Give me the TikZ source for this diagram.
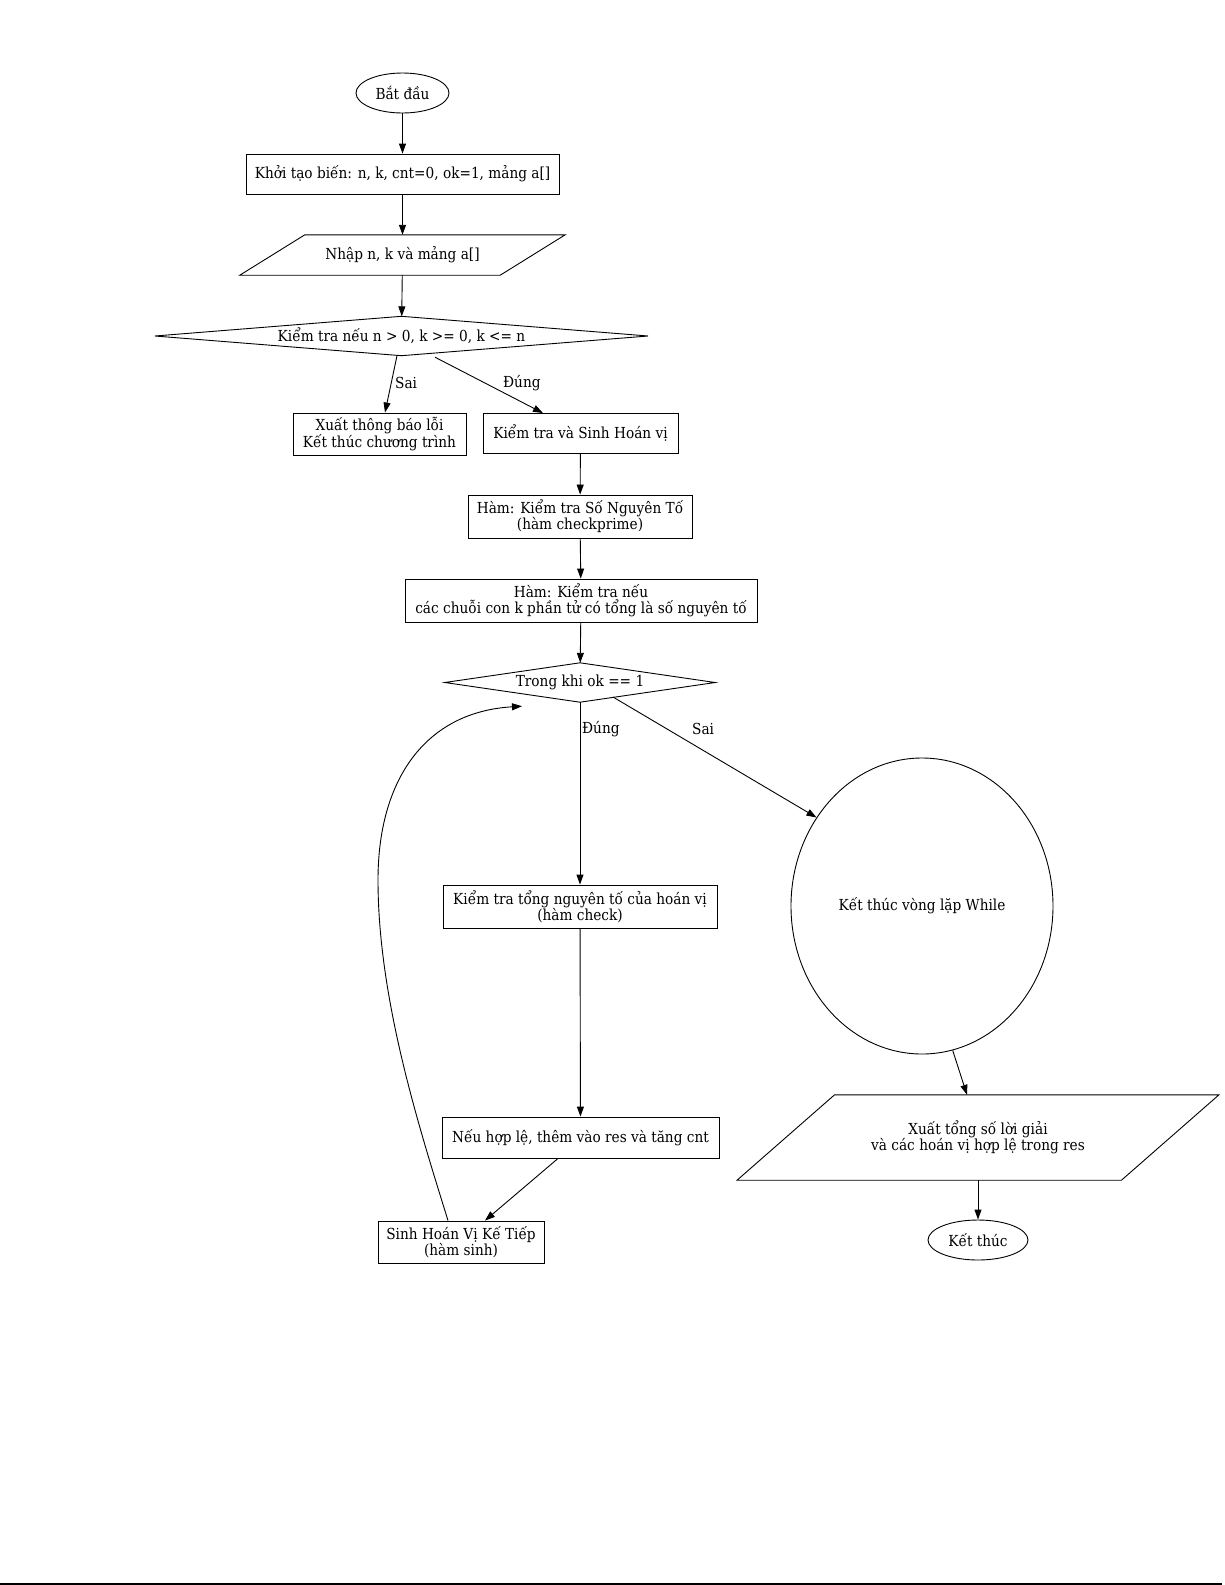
\documentclass[tikz,border=0pt]{standalone}
\usepackage{fontspec}
\setmainfont{DejaVu Serif Condensed}
\usetikzlibrary{arrows.meta,shapes.geometric}
\begin{document}
\begin{tikzpicture}[x=1pt,y=-1pt,
  every node/.style={font=\fontsize{15.2}{16}\selectfont, inner sep=0pt, align=center},
  box/.style={draw, rectangle, line width=0.9pt},
  oval/.style={draw, ellipse, line width=0.9pt},
  ghost/.style={rectangle, draw=none},
  shapeline/.style={line width=0.9pt},
  arr/.style={line width=0.9pt, -{Triangle[length=10pt,width=7pt]}},
  lbl/.style={anchor=west}]
\useasboundingbox (0,0) rectangle (1225,1585);
\fill[white] (0,0) rectangle (1225,1585);

% nodes
\node[oval, minimum width=93pt, minimum height=40pt] (start) at (402.5,93) {Bắt đầu};
\node[box, minimum width=313pt, minimum height=40pt] (init) at (402.5,174) {Khởi tạo biến: n, k, cnt=0, ok=1, mảng a[]};
\node[ghost, minimum width=260pt, minimum height=40pt] (input) at (402.5,255) {Nhập n, k và mảng a[]};
\draw[shapeline] ([xshift=32.5pt]input.north west) -- ([xshift=32.5pt]input.north east)
  -- ([xshift=-32.5pt]input.south east) -- ([xshift=-32.5pt]input.south west) -- cycle;
\node[ghost, minimum width=493pt, minimum height=39pt] (d1) at (401.5,336) {Kiểm tra nếu n > 0, k >= 0, k <= n};
\draw[shapeline] (d1.west) -- (d1.north) -- (d1.east) -- (d1.south) -- cycle;
\node[box, minimum width=173pt, minimum height=42pt] (err) at (379.5,434) {Xuất thông báo lỗi\\Kết thúc chương trình};
\node[box, minimum width=195pt, minimum height=40pt] (gen) at (580.5,433.5) {Kiểm tra và Sinh Hoán vị};
\node[box, minimum width=224pt, minimum height=43pt] (prime) at (580,516.5) {Hàm: Kiểm tra Số Nguyên Tố\\(hàm checkprime)};
\node[box, minimum width=352pt, minimum height=43pt] (sub) at (581,600.5) {Hàm: Kiểm tra nếu\\các chuỗi con k phần tử có tổng là số nguyên tố};
\node[ghost, minimum width=270pt, minimum height=39pt] (d2) at (580,682.5) {Trong khi ok == 1};
\draw[shapeline] (d2.west) -- (d2.north) -- (d2.east) -- (d2.south) -- cycle;
\node[box, minimum width=274pt, minimum height=43pt] (check) at (580,906.5) {Kiểm tra tổng nguyên tố của hoán vị\\(hàm check)};
\node[box, minimum width=277pt, minimum height=41pt] (valid) at (580.5,1137.5) {Nếu hợp lệ, thêm vào res và tăng cnt};
\node[box, minimum width=166pt, minimum height=42pt] (next) at (461,1242) {Sinh Hoán Vị Kế Tiếp\\(hàm sinh)};
\node[oval, minimum width=262pt, minimum height=296pt] (endloop) at (922,906) {Kết thúc vòng lặp While};
\node[ghost, minimum width=384pt, minimum height=85pt] (output) at (978,1137.5) {Xuất tổng số lời giải\\và các hoán vị hợp lệ trong res};
\draw[shapeline] ([xshift=48.75pt]output.north west) -- ([xshift=48.75pt]output.north east)
  -- ([xshift=-48.75pt]output.south east) -- ([xshift=-48.75pt]output.south west) -- cycle;
\node[oval, minimum width=100pt, minimum height=40pt] (end) at (978,1240) {Kết thúc};

% connectors
\draw[arr] (start) -- (init);
\draw[arr] (init) -- (input);
\draw[arr] (input) -- (d1);
\draw[arr] ([xshift=-4.5pt]d1.south) -- ([xshift=5.5pt]err.north);
\draw[arr] ([xshift=33.5pt,yshift=-1.5pt]d1.south) -- ([xshift=-37.5pt]gen.north);
\node[lbl] (lsai1) at (395,383) {Sai};
\node[lbl] (ldung1) at (503,383) {Đúng};
\draw[arr] (gen) -- (prime);
\draw[arr] (prime) -- (sub);
\draw[arr] (sub) -- (d2);
\draw[arr] (d2.south) -- (check.north);
\node[lbl] (ldung2) at (582,729) {Đúng};
\coordinate (d2out) at (613,697);
\draw[arr] (d2out) -- (endloop.140);
\node[lbl] (lsai2) at (692,729) {Sai};
\draw[arr] (check) -- (valid);
\draw[arr] ([xshift=-22.5pt]valid.south) -- ([xshift=24pt]next.north);
\draw[arr] ([xshift=-13pt]next.north) .. controls (420,1130) and (378,1000) .. (378,880)
  .. controls (378,780) and (425,712) .. ([xshift=-58pt,yshift=-4pt]d2.south);
\draw[arr] (endloop.282) -- ([xshift=-11pt]output.north);
\draw[arr] (output) -- (end);

\draw[line width=2pt] (0,1583.5) -- (1222,1583.5);
\end{tikzpicture}
\end{document}
